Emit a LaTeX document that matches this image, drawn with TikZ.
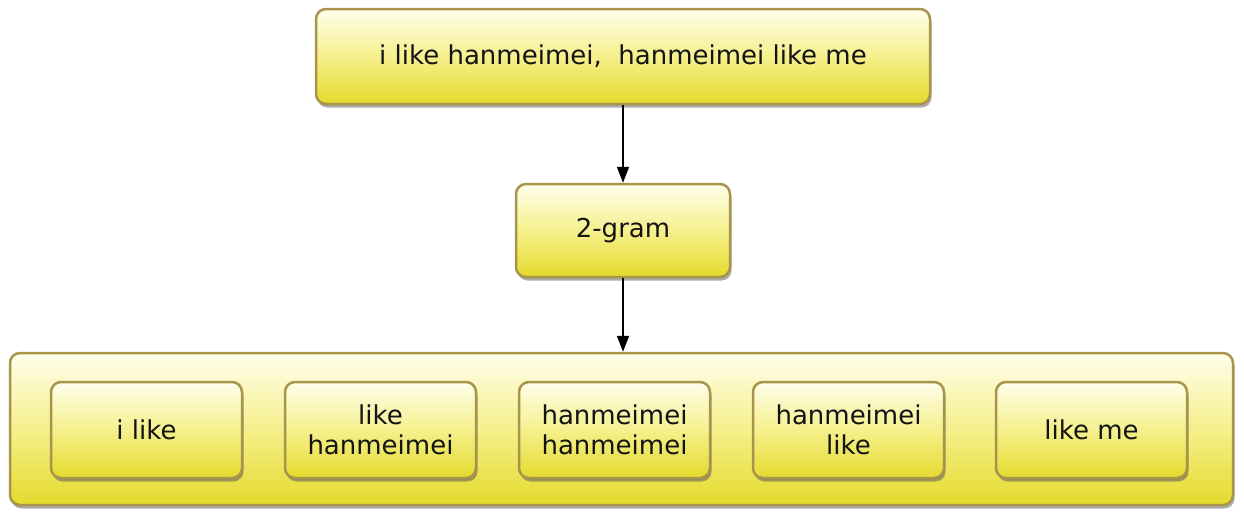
\documentclass[tikz,border=0pt]{standalone}
\usepackage{fontspec}
\setmainfont{DejaVu Sans}
\usetikzlibrary{shadows,arrows.meta}
\definecolor{boxtop}{HTML}{FFFEEC}
\definecolor{boxmid}{HTML}{F5F08C}
\definecolor{boxbot}{HTML}{E5DA2C}
\definecolor{boxline}{HTML}{A8944A}
\tikzset{
  ybox/.style={draw=boxline, line width=2.5pt, rounded corners=10pt,
    top color=boxtop, bottom color=boxbot, middle color=boxmid,
    drop shadow={opacity=0.5, shadow xshift=1.5pt, shadow yshift=-3.5pt, fill=black!65},
    align=center, inner sep=0pt, font=\fontsize{26}{30}\selectfont, text=black!92},
  smallbox/.style={ybox, minimum width=191pt, minimum height=96pt,
    drop shadow={opacity=0.3, shadow xshift=1pt, shadow yshift=-2pt, fill=black!60}},
  conn/.style={line width=1.8pt, -{Triangle[length=16pt,width=12pt]}}
}
\begin{document}
\begin{tikzpicture}[x=1pt,y=-1pt]
\useasboundingbox[fill=white] (0,0) rectangle (1244,530);
\node[ybox, minimum width=614pt, minimum height=95pt] (top) at (623,56.5) {i like hanmeimei,\ \ hanmeimei like me};
\node[ybox, minimum width=214pt, minimum height=93pt] (mid) at (623,230.5) {2-gram};
\node[ybox, minimum width=1223pt, minimum height=152pt] (big) at (621.5,429) {};
\node[smallbox] (s1) at (146.5,430) {i like};
\node[smallbox] (s2) at (380.5,430) {like\\hanmeimei};
\node[smallbox] (s3) at (614.5,430) {hanmeimei\\hanmeimei};
\node[smallbox] (s4) at (848.5,430) {hanmeimei\\like};
\node[smallbox] (s5) at (1091.5,430) {like me};
\draw[conn] (top.south) -- (mid.north);
\draw[conn] (mid.south) -- (mid.south |- big.north);
\end{tikzpicture}
\end{document}
